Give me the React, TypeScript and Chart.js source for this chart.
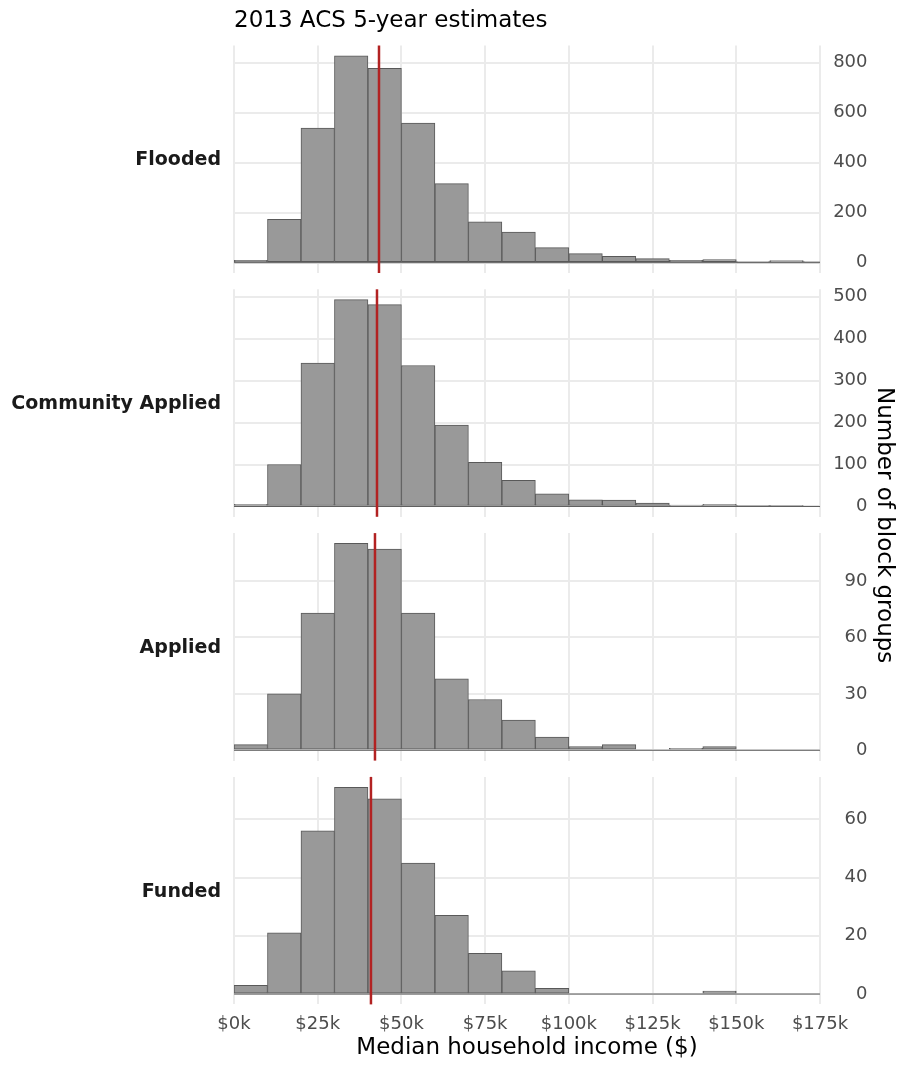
import React, { useEffect, useRef } from 'react';
import { Chart, registerables } from 'chart.js';

Chart.register(...registerables);

const FONT = "'DejaVu Sans', sans-serif";

// Histogram bins (lower edges, $) and bin width
const binStarts = [0, 10000, 20000, 30000, 40000, 50000, 60000, 70000, 80000, 90000, 100000, 110000, 120000, 130000, 140000, 150000, 160000, 170000];
const binWidth = 10000;

const panelNames = ['Flooded', 'Community Applied', 'Applied', 'Funded'];

// Counts of block groups per bin
const floodedCounts = [9, 173, 538, 827, 777, 558, 316, 163, 122, 60, 36, 25, 16, 9, 12, 2, 8, 3];
const communityAppliedCounts = [5, 100, 342, 493, 481, 336, 194, 105, 62, 30, 16, 15, 8, 3, 5, 2, 2, 0];
const appliedCounts = [3, 30, 73, 110, 107, 73, 38, 27, 16, 7, 2, 3, 0, 1, 2, 0, 0, 0];
const fundedCounts = [3, 21, 56, 71, 67, 45, 27, 14, 8, 2, 0, 0, 0, 0, 1, 0, 0, 0];

// Mean median household income per panel (red lines)
const meanIncome = [43300, 42700, 42100, 40900];

// Axis ticks
const xTicks = [0, 25000, 50000, 75000, 100000, 125000, 150000, 175000];
const xTickLabels = ['$0k', '$25k', '$50k', '$75k', '$100k', '$125k', '$150k', '$175k'];
const yTicksFlooded = [0, 200, 400, 600, 800];
const yTicksCommunityApplied = [0, 100, 200, 300, 400, 500];
const yTicksApplied = [0, 30, 60, 90];
const yTicksFunded = [0, 20, 40, 60];

const panelCounts = [floodedCounts, communityAppliedCounts, appliedCounts, fundedCounts];
const panelYTicks = [yTicksFlooded, yTicksCommunityApplied, yTicksApplied, yTicksFunded];

const W = 904;
const H = 1066;
const PLOT_LEFT = 234;
const PLOT_RIGHT = 820;
const X_MAX = 175000;
const PANEL_TOPS = [45.5, 289.3, 533.1, 776.9];
const PANEL_H = 227.5;
const TICK_RIGHT_EDGE = 867.5;

function Panel({ idx }: { idx: number }) {
  const ref = useRef<HTMLCanvasElement>(null);
  const top = PANEL_TOPS[idx];
  const bottom = top + PANEL_H;
  const isFirst = idx === 0;
  const isLast = idx === panelNames.length - 1;
  const canvasTop = isFirst ? 0 : Math.floor(top - 16);
  const canvasBottom = isLast ? H : Math.ceil(bottom + 16);
  const ch = canvasBottom - canvasTop;

  useEffect(() => {
    const counts = panelCounts[idx];
    const yTicks = panelYTicks[idx];
    const maxC = Math.max(...counts);
    const xAxisH = isLast ? canvasBottom - bottom : 0;
    const titleLine = 23 * 1.2;
    const titlePadTop = 7.6;

    const overlay = {
      id: 'overlay' + idx,
      afterDatasetsDraw(chart: any) {
        const { ctx, chartArea, scales } = chart;
        const x = scales.x;
        const y = scales.y;
        ctx.save();
        const y0 = y.getPixelForValue(0);
        ctx.strokeStyle = '#595959';
        ctx.lineWidth = 1;
        ctx.beginPath();
        ctx.moveTo(x.getPixelForValue(0), y0);
        ctx.lineTo(x.getPixelForValue(X_MAX), y0);
        ctx.stroke();
        const mx = x.getPixelForValue(meanIncome[idx]);
        ctx.strokeStyle = '#B22222';
        ctx.lineWidth = 2.5;
        ctx.beginPath();
        ctx.moveTo(mx, chartArea.top);
        ctx.lineTo(mx, chartArea.bottom);
        ctx.stroke();
        ctx.font = `bold 19px ${FONT}`;
        ctx.fillStyle = '#1A1A1A';
        ctx.textAlign = 'right';
        ctx.textBaseline = 'middle';
        ctx.fillText(panelNames[idx], chartArea.left - 13, (chartArea.top + chartArea.bottom) / 2 + 1);
        ctx.restore();
      },
    };

    const chart = new Chart(ref.current!, {
      type: 'bar',
      data: {
        datasets: [
          {
            data: binStarts.map((s, i) => ({ x: s + binWidth / 2, y: counts[i] })),
            backgroundColor: '#999999',
            borderColor: '#595959',
            borderWidth: 1,
            borderSkipped: false,
            barPercentage: 1,
            categoryPercentage: 1,
          } as any,
        ],
      },
      options: {
        responsive: false,
        animation: false,
        devicePixelRatio: 1,
        layout: {
          padding: {
            left: PLOT_LEFT,
            right: W - TICK_RIGHT_EDGE,
            top: isFirst ? 0 : top - canvasTop,
            bottom: isLast ? 0 : canvasBottom - bottom,
          },
        },
        plugins: {
          legend: { display: false },
          tooltip: { enabled: false },
          title: {
            display: isFirst,
            text: '2013 ACS 5-year estimates',
            align: 'start',
            fullSize: false,
            color: '#000000',
            font: { family: FONT, size: 23, weight: 'normal' },
            padding: { top: titlePadTop, bottom: top - titleLine - titlePadTop },
          },
        },
        scales: {
          x: {
            type: 'linear',
            position: 'bottom',
            min: 0,
            max: X_MAX,
            offset: false,
            grid: { color: '#EBEBEB', lineWidth: 2, drawTicks: false, offset: false },
            border: { display: false },
            ticks: {
              display: isLast,
              font: { family: FONT, size: 18 },
              color: '#4D4D4D',
              padding: 9,
              maxRotation: 0,
              autoSkip: false,
              callback: (v: any) => {
                const i = xTicks.indexOf(Number(v));
                return i >= 0 ? xTickLabels[i] : '';
              },
            },
            afterBuildTicks: (s: any) => {
              s.ticks = xTicks.map((v) => ({ value: v }));
            },
            afterFit: (s: any) => {
              s.height = xAxisH;
              s.paddingTop = 0;
              s.paddingBottom = 0;
            },
            title: {
              display: isLast,
              text: 'Median household income ($)',
              color: '#000000',
              font: { family: FONT, size: 23 },
              padding: { top: 0, bottom: 4 },
            },
          },
          y: {
            type: 'linear',
            position: 'right',
            min: -0.05 * maxC,
            max: 1.05 * maxC,
            grid: { color: '#EBEBEB', lineWidth: 2, drawTicks: false },
            border: { display: false },
            ticks: {
              font: { family: FONT, size: 18 },
              color: '#4D4D4D',
              padding: 0,
              crossAlign: 'far',
              callback: (v: any) => String(v),
            },
            afterBuildTicks: (s: any) => {
              s.ticks = yTicks.map((v) => ({ value: v }));
            },
            afterFit: (s: any) => {
              s.width = TICK_RIGHT_EDGE - PLOT_RIGHT;
              s.paddingTop = 0;
              s.paddingBottom = 0;
            },
          },
        },
      } as any,
      plugins: [overlay],
    });
    return () => chart.destroy();
  }, []);

  return (
    <canvas
      ref={ref}
      width={W}
      height={ch}
      style={{ position: 'absolute', left: 0, top: canvasTop, width: W, height: ch }}
    />
  );
}

export default function App() {
  const plotTop = PANEL_TOPS[0];
  const plotBottom = PANEL_TOPS[PANEL_TOPS.length - 1] + PANEL_H;
  return (
    <div style={{ position: 'absolute', left: 0, top: 0, width: W, height: H, background: '#ffffff', overflow: 'hidden' }}>
      {panelNames.map((_, i) => (
        <Panel key={i} idx={i} />
      ))}
      <div
        style={{
          position: 'absolute',
          left: 873.5,
          top: plotTop,
          width: 23,
          height: plotBottom - plotTop,
          display: 'flex',
          alignItems: 'center',
          justifyContent: 'center',
          writingMode: 'vertical-rl',
          fontFamily: FONT,
          fontSize: 23,
          lineHeight: '23px',
          color: '#000000',
          whiteSpace: 'nowrap',
        }}
      >
        Number of block groups
      </div>
    </div>
  );
}
